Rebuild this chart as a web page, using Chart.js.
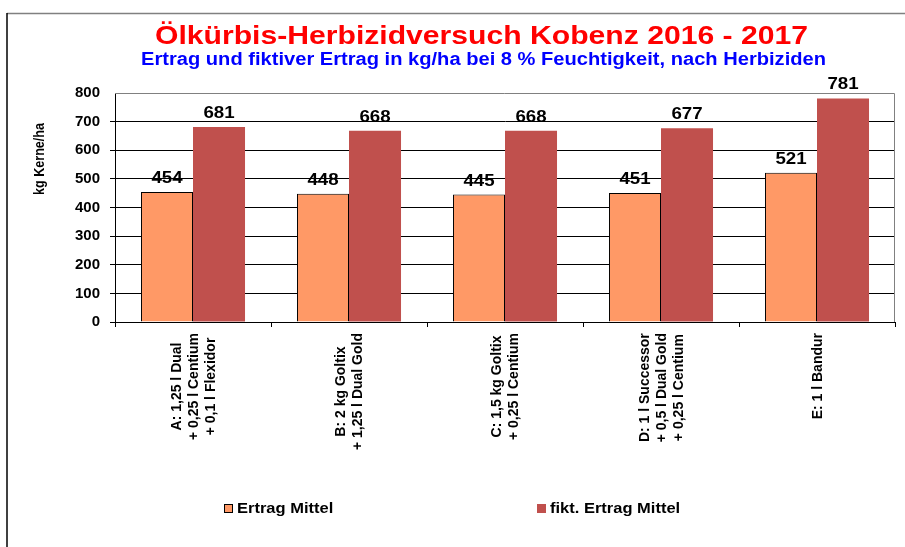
<!DOCTYPE html>
<html>
<head>
<meta charset="utf-8">
<script src="https://cdn.jsdelivr.net/npm/chart.js@4.4.1/dist/chart.umd.min.js"></script>
<style>
    html, body { margin: 0; padding: 0; background: #fff; }
    #wrap { width: 905px; height: 547px; position: relative; }
</style>
</head>
<body>
<div id="wrap"><canvas id="chart" width="905" height="547"></canvas></div>
<script>
// Daten des Diagramms
const categories = [
    ['A: 1,25 l Dual', '+ 0,25 l Centium', '+ 0,1 l Flexidor'],
    ['B: 2 kg Goltix', '+ 1,25 l Dual Gold'],
    ['C: 1,5 kg Goltix', '+ 0,25 l Centium'],
    ['D: 1 l Successor', '+ 0,5 l Dual Gold', '+ 0,25 l Centium'],
    ['E: 1 l Bandur']
];
const ertragMittel = [454, 448, 445, 451, 521];
const fiktErtragMittel = [681, 668, 668, 677, 781];
const seriesLabels = ['Ertrag Mittel', 'fikt. Ertrag Mittel'];
const yTicks = [0, 100, 200, 300, 400, 500, 600, 700, 800];

const titleText = 'Ölkürbis-Herbizidversuch Kobenz 2016 - 2017';
const subtitleText = 'Ertrag und fiktiver Ertrag in kg/ha bei 8 % Feuchtigkeit, nach Herbiziden';
const yAxisTitle = 'kg Kerne/ha';

const FONT = 'Arial, "Liberation Sans", sans-serif';

/**
 * Text horizontal gestreckt zeichnen (Vorlage ist etwas breiter)
 */
function stretchedText(ctx, text, x, y, sx) {
    ctx.save();
    ctx.translate(x, y);
    ctx.scale(sx, 1);
    ctx.fillText(text, 0, 0);
    ctx.restore();
}

/**
 * Text in eine Zielbreite einpassen, linksbündig ab x
 */
function fitText(ctx, text, x, y, width) {
    const w = ctx.measureText(text).width;
    ctx.save();
    ctx.textAlign = 'left';
    ctx.translate(x, y);
    ctx.scale(width / w, 1);
    ctx.fillText(text, 0, 0);
    ctx.restore();
}

/**
 * Zeichnet Rahmen, Titel, Achsentitel, Kategorien, Werte und Legende
 */
const decorPlugin = {
    id: 'decor',
    afterDraw(chart) {
        const ctx = chart.ctx;
        const area = chart.chartArea;
        ctx.save();

        // Rahmen links / oben
        ctx.lineWidth = 1.5;
        ctx.strokeStyle = '#808080';
        ctx.beginPath();
        ctx.moveTo(7, 13.5);
        ctx.lineTo(905, 13.5);
        ctx.stroke();
        ctx.strokeStyle = '#000';
        ctx.beginPath();
        ctx.moveTo(7, 13);
        ctx.lineTo(7, 547);
        ctx.stroke();

        // Plotrahmen oben / rechts (grau)
        ctx.lineWidth = 1;
        ctx.strokeStyle = '#808080';
        ctx.beginPath();
        ctx.moveTo(area.left, area.top + 0.5);
        ctx.lineTo(area.right - 0.5, area.top + 0.5);
        ctx.lineTo(area.right - 0.5, area.bottom);
        ctx.stroke();

        // Titel
        ctx.textBaseline = 'alphabetic';
        ctx.fillStyle = '#ff0000';
        ctx.font = 'bold 25px ' + FONT;
        fitText(ctx, titleText, 155, 44, 653);
        ctx.fillStyle = '#0000ff';
        ctx.font = 'bold 18px ' + FONT;
        fitText(ctx, subtitleText, 141, 65, 685);

        // Y-Achsentitel (gedreht, auf 72 px Länge eingepasst)
        ctx.save();
        ctx.translate(40, 159);
        ctx.rotate(-Math.PI / 2);
        ctx.fillStyle = '#000';
        ctx.font = 'bold 15px ' + FONT;
        const tw = ctx.measureText(yAxisTitle).width;
        ctx.scale(72 / tw, 1);
        ctx.textAlign = 'center';
        ctx.textBaseline = 'middle';
        ctx.fillText(yAxisTitle, 0, 0);
        ctx.restore();

        // Kategorien (gedreht, Zeilen zentriert)
        const xScale = chart.scales.x;
        ctx.fillStyle = '#000';
        ctx.font = 'bold 14px ' + FONT;
        chart.data.labels.forEach((lines, i) => {
            const cx = xScale.getPixelForTick(i);
            const maxW = Math.max(...lines.map(l => ctx.measureText(l).width));
            const cy = area.bottom + 11 + maxW / 2;
            lines.forEach((line, k) => {
                const lx = cx + 1 + (k - (lines.length - 1) / 2) * 17;
                ctx.save();
                ctx.translate(lx, cy);
                ctx.rotate(-Math.PI / 2);
                ctx.textAlign = 'center';
                ctx.textBaseline = 'middle';
                ctx.fillText(line, 0, 0);
                ctx.restore();
            });
        });

        // Datenbeschriftungen
        ctx.fillStyle = '#000';
        ctx.font = 'bold 17px ' + FONT;
        ctx.textAlign = 'center';
        ctx.textBaseline = 'alphabetic';
        chart.data.datasets.forEach((ds, i) => {
            const meta = chart.getDatasetMeta(i);
            meta.data.forEach((bar, j) => {
                stretchedText(ctx, String(ds.data[j]), bar.x, bar.y - 9, 1.1);
            });
        });

        // Legende
        const legendX = [224, 537];
        ctx.font = 'bold 15px ' + FONT;
        ctx.textAlign = 'left';
        ctx.textBaseline = 'middle';
        chart.data.datasets.forEach((ds, i) => {
            const x = legendX[i];
            const y = 508;
            ctx.fillStyle = ds.backgroundColor;
            ctx.fillRect(x, y - 4, 9, 9);
            if (i === 0) {
                ctx.strokeStyle = '#000';
                ctx.lineWidth = 1;
                ctx.strokeRect(x + 0.5, y - 3.5, 8, 8);
            }
            ctx.fillStyle = '#000';
            stretchedText(ctx, ds.label, x + 13, y + 1, 1.1);
        });

        ctx.restore();
    }
};

const ctx = document.getElementById('chart').getContext('2d');
const chart = new Chart(ctx, {
    type: 'bar',
    data: {
        labels: categories,
        datasets: [
            {
                label: seriesLabels[0],
                data: ertragMittel,
                backgroundColor: '#ff9966',
                borderColor: '#000',
                borderWidth: 1
            },
            {
                label: seriesLabels[1],
                data: fiktErtragMittel,
                backgroundColor: '#c0504d',
                borderColor: '#c0504d',
                borderWidth: 0
            }
        ]
    },
    options: {
        responsive: false,
        animation: false,
        devicePixelRatio: 1,
        layout: {
            padding: { left: 0, right: 10, top: 93, bottom: 0 }
        },
        plugins: {
            legend: { display: false },
            title: { display: false },
            tooltip: { enabled: false }
        },
        datasets: {
            bar: {
                categoryPercentage: 0.667,
                barPercentage: 1
            }
        },
        scales: {
            x: {
                grid: {
                    display: true,
                    offset: true,
                    drawOnChartArea: false,
                    drawTicks: true,
                    tickLength: 5,
                    color: '#000'
                },
                border: { display: true, color: '#000', width: 1 },
                ticks: {
                    display: false,
                    autoSkip: false
                },
                afterFit(scale) {
                    scale.height = 225;
                }
            },
            y: {
                min: 0,
                max: 800,
                afterBuildTicks(scale) {
                    scale.ticks = yTicks.map(v => ({ value: v }));
                },
                grid: {
                    color: ctx => (ctx.tick && ctx.tick.value === 800) ? 'rgba(0,0,0,0)' : '#000',
                    drawTicks: true,
                    tickLength: 5,
                    lineWidth: 1
                },
                border: { display: true, color: '#000', width: 1 },
                ticks: {
                    color: '#000',
                    font: { family: FONT, size: 15, weight: 'bold' },
                    padding: 10
                },
                afterFit(scale) {
                    scale.width = 115;
                }
            }
        }
    },
    plugins: [decorPlugin]
});
</script>
</body>
</html>
